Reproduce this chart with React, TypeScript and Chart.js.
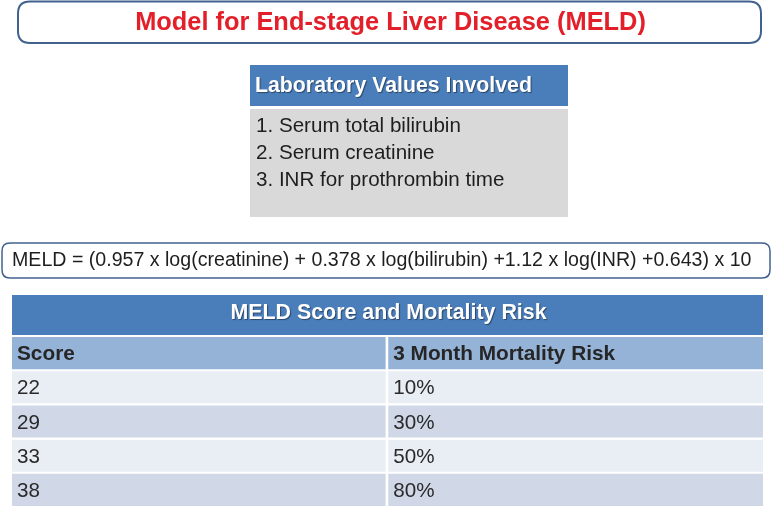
import React, { useEffect, useRef } from "react";
import { Chart, registerables } from "chart.js";

Chart.register(...registerables);

const titleText = "Model for End-stage Liver Disease (MELD)";
const labHeader = "Laboratory Values Involved";
const labItems = ["1. Serum total bilirubin", "2. Serum creatinine", "3. INR for prothrombin time"];
const formulaText =
  "MELD = (0.957 x log(creatinine) + 0.378 x log(bilirubin) +1.12 x log(INR) +0.643) x 10";
const tableTitle = "MELD Score and Mortality Risk";
const columnHeaders = ["Score", "3 Month Mortality Risk"];
const scores = ["22", "29", "33", "38"];
const risks = ["10%", "30%", "50%", "80%"];

const FONT = "'Liberation Sans', Arial, Helvetica, sans-serif";
const NAVY = "#41618F";
const BLUE = "#4A7EBB";
const HEAD2 = "#95B3D7";
const LIGHT = "#E9EDF4";
const DARK = "#D0D8E8";

function roundRect(ctx: CanvasRenderingContext2D, x: number, y: number, w: number, h: number, r: number) {
  ctx.beginPath();
  ctx.moveTo(x + r, y);
  ctx.lineTo(x + w - r, y);
  ctx.quadraticCurveTo(x + w, y, x + w, y + r);
  ctx.lineTo(x + w, y + h - r);
  ctx.quadraticCurveTo(x + w, y + h, x + w - r, y + h);
  ctx.lineTo(x + r, y + h);
  ctx.quadraticCurveTo(x, y + h, x, y + h - r);
  ctx.lineTo(x, y + r);
  ctx.quadraticCurveTo(x, y, x + r, y);
  ctx.closePath();
}

const infoPlugin = {
  id: "infoPlugin",
  beforeDatasetsDraw(chart: any) {
    const ctx: CanvasRenderingContext2D = chart.ctx;
    const xs = chart.scales.x;
    ctx.save();
    // Title box
    roundRect(ctx, 18, 1.5, 743, 41.5, 12);
    ctx.fillStyle = "#ffffff";
    ctx.fill();
    ctx.lineWidth = 2;
    ctx.strokeStyle = NAVY;
    ctx.stroke();
    ctx.fillStyle = "#E3202A";
    ctx.font = `bold 25.4px ${FONT}`;
    ctx.textAlign = "center";
    ctx.textBaseline = "middle";
    ctx.fillText(titleText, 390.5, 23);

    // Lab values box
    ctx.fillStyle = BLUE;
    ctx.fillRect(250, 65, 318, 41);
    ctx.fillStyle = "#D9D9D9";
    ctx.fillRect(250, 109, 318, 108);
    ctx.save();
    ctx.shadowColor = "rgba(0,0,0,0.45)";
    ctx.shadowOffsetX = 1;
    ctx.shadowOffsetY = 1;
    ctx.shadowBlur = 1;
    ctx.fillStyle = "#ffffff";
    ctx.font = `bold 21.3px ${FONT}`;
    ctx.textAlign = "left";
    ctx.fillText(labHeader, 255, 86);
    ctx.restore();
    ctx.fillStyle = "#1e1e1e";
    ctx.font = `20.6px ${FONT}`;
    ctx.textAlign = "left";
    labItems.forEach((t, i) => ctx.fillText(t, 256, 126 + i * 27));

    // Formula box
    roundRect(ctx, 2, 243, 768, 35, 8);
    ctx.fillStyle = "#ffffff";
    ctx.fill();
    ctx.lineWidth = 1.5;
    ctx.strokeStyle = NAVY;
    ctx.stroke();
    ctx.fillStyle = "#1e1e1e";
    ctx.font = `19.6px ${FONT}`;
    ctx.textAlign = "left";
    ctx.fillText(formulaText, 12, 261);

    // Table title row
    const x0 = xs.getPixelForValue(0);
    const x1 = xs.getPixelForValue(1);
    ctx.fillStyle = BLUE;
    ctx.fillRect(x0, 295, x1 - x0, 40);
    ctx.save();
    ctx.shadowColor = "rgba(0,0,0,0.45)";
    ctx.shadowOffsetX = 1;
    ctx.shadowOffsetY = 1;
    ctx.shadowBlur = 1;
    ctx.fillStyle = "#ffffff";
    ctx.font = `bold 21.4px ${FONT}`;
    ctx.textAlign = "center";
    ctx.fillText(tableTitle, (x0 + x1) / 2 + 1, 313);
    ctx.restore();
    ctx.restore();
  },
  afterDatasetsDraw(chart: any) {
    const ctx: CanvasRenderingContext2D = chart.ctx;
    ctx.save();
    ctx.textAlign = "left";
    ctx.textBaseline = "middle";
    chart.data.datasets.forEach((ds: any, di: number) => {
      const meta = chart.getDatasetMeta(di);
      meta.data.forEach((el: any, i: number) => {
        const p = el.getProps(["x", "y", "base"], true);
        const left = Math.min(p.x, p.base);
        const txt = ds.cellText[i];
        ctx.font = i === 0 ? `bold 20.8px ${FONT}` : `20.6px ${FONT}`;
        ctx.fillStyle = i === 0 ? "#262626" : "#2a2a2a";
        ctx.fillText(txt, left + 5, p.y + 1.5);
      });
    });
    ctx.restore();
  },
};

export default function App() {
  const ref = useRef<HTMLCanvasElement | null>(null);
  useEffect(() => {
    if (!ref.current) return;
    const labels = [columnHeaders[0], ...scores];
    const rowColors = labels.map((_, i) => (i === 0 ? HEAD2 : i % 2 === 1 ? LIGHT : DARK));
    const chart = new Chart(ref.current, {
      type: "bar",
      data: {
        labels,
        datasets: [
          {
            label: columnHeaders[0],
            data: labels.map(() => [0, 0.4975]) as any,
            backgroundColor: rowColors,
            cellText: [columnHeaders[0], ...scores],
          } as any,
          {
            label: columnHeaders[1],
            data: labels.map(() => [0.501, 1]) as any,
            backgroundColor: rowColors,
            cellText: [columnHeaders[1], ...risks],
          } as any,
        ],
      },
      options: {
        indexAxis: "y",
        responsive: false,
        animation: false,
        devicePixelRatio: 1,
        layout: { padding: { top: 336, left: 12, right: 9, bottom: 1 } },
        datasets: { bar: { grouped: false, categoryPercentage: 1, barPercentage: 0.94, borderWidth: 0 } } as any,
        scales: {
          x: { type: "linear", min: 0, max: 1, display: false },
          y: { type: "category", display: false },
        },
        plugins: { legend: { display: false }, tooltip: { enabled: false }, title: { display: false } },
      },
      plugins: [infoPlugin],
    });
    return () => chart.destroy();
  }, []);
  return (
    <div style={{ position: "fixed", left: 0, top: 0, width: 772, height: 508, background: "#fff" }}>
      <canvas ref={ref} width={772} height={508} style={{ display: "block" }} />
    </div>
  );
}
